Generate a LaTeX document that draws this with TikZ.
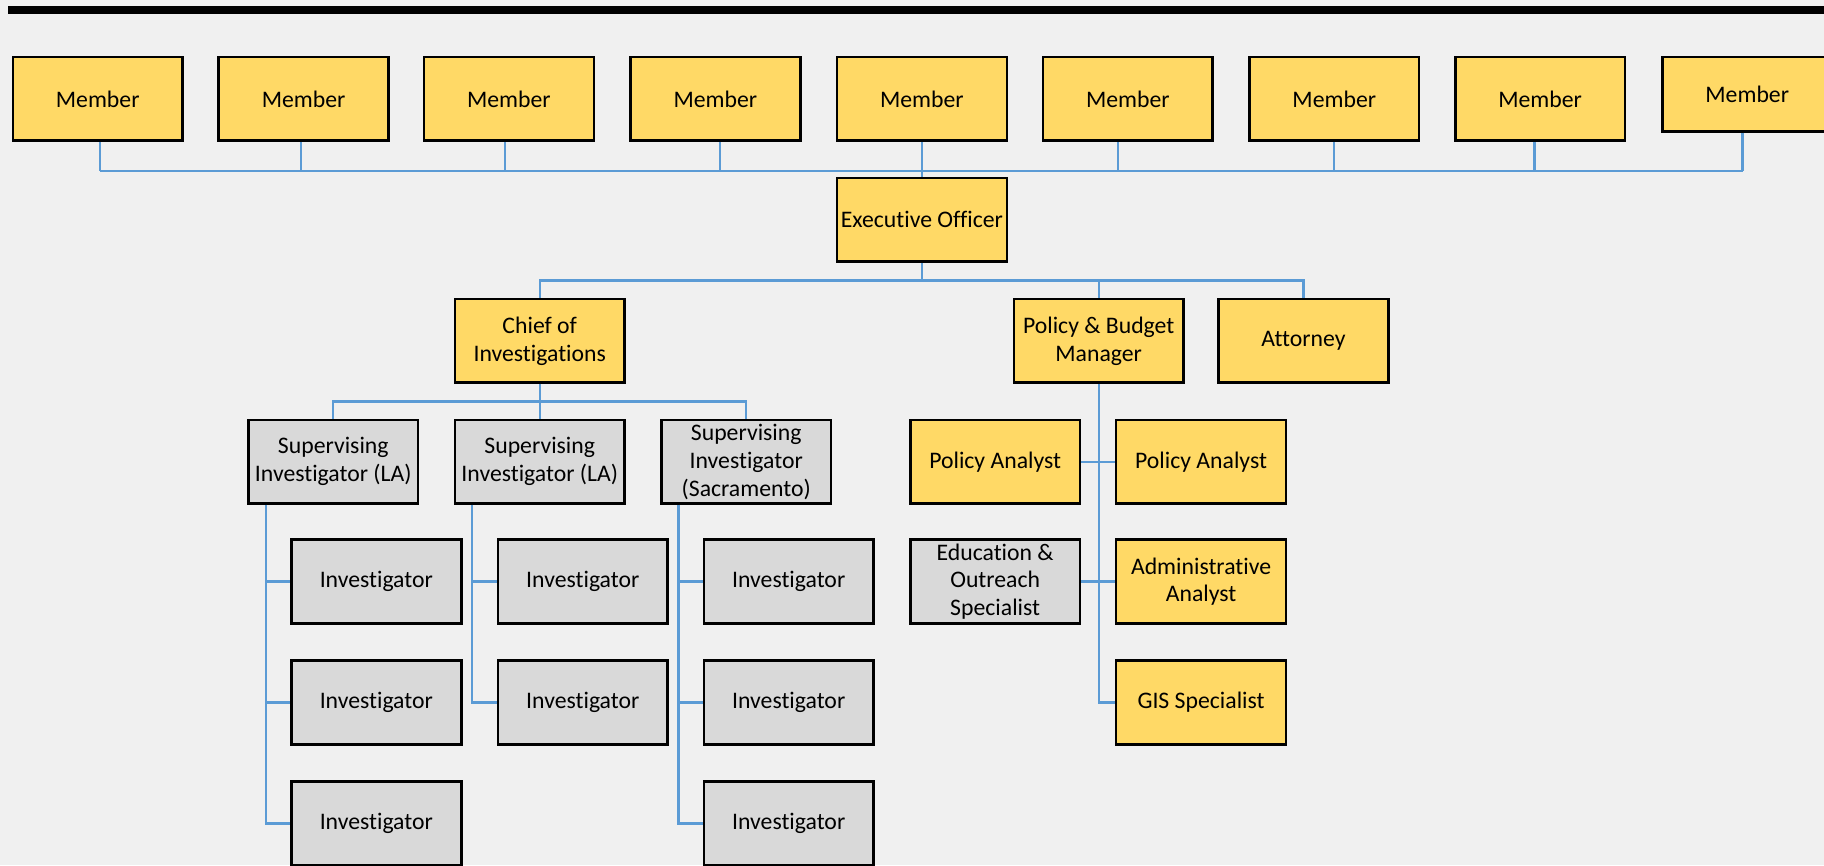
\documentclass[tikz,border=0pt]{standalone}
\usepackage{fontspec}
\setmainfont{Carlito}[RawFeature={-liga;-clig;-calt;-dlig}]
\definecolor{boxgold}{HTML}{FFD966}
\definecolor{boxgray}{HTML}{D9D9D9}
\definecolor{linkblue}{HTML}{5B9BD5}
\definecolor{pagebg}{HTML}{F0F0F0}
\begin{document}
\begin{tikzpicture}[x=0.5pt,y=-0.5pt,
	post/.style={draw=black,line width=1.1pt,minimum width=73pt,minimum height=36pt,inner sep=1pt,align=center,font=\fontsize{10.2}{12}\selectfont},
	goldpost/.style={post,fill=boxgold},
	graypost/.style={post,fill=boxgray},
	link/.style={draw=linkblue,line width=1pt}]
	\fill[pagebg] (0,0) rectangle (1568,744);
	\useasboundingbox (0,0) rectangle (1568,744);
	\draw[line width=3.6pt] (7,8.5) -- (1568,8.5);
	\foreach \i/\x/\d in {1/84/1,2/261/-1,3/437.5/-1.75,4/615/2,5/792.5/0,6/969.5/-4.25,7/1147/0,8/1324/-2.5}
	{
		\node[goldpost] (m\i) at (\x,85) {Member};
		\draw[link] ([xshift=\d pt]m\i.south) -- ++(0,25) coordinate (b\i);
	}
	\node[goldpost,minimum height=32pt] (m9) at (1502,81) {Member};
	\draw[link] ([xshift=-2pt]m9.south) -- ++(0,33) coordinate (b9);
	\draw[link] (b1) -- (b9);
	\node[goldpost] (exec) at (792.5,189) {Executive Officer};
	\draw[link] (m5.south) -- (exec.north);
	\node[goldpost] (chief) at (464,293) {Chief of\\Investigations};
	\node[goldpost] (pbm) at (944.5,293) {Policy \& Budget\\Manager};
	\node[goldpost] (atty) at (1120.5,293) {Attorney};
	\foreach \n in {chief,pbm,atty}
		\draw[link] (exec.south) -- ++(0,15) -| (\n.north);
	\node[graypost] (sup1) at (286.5,397) {Supervising\\Investigator (LA)};
	\node[graypost] (sup2) at (464,397) {Supervising\\Investigator (LA)};
	\node[graypost] (sup3) at (641.5,397) {Supervising\\Investigator\\(Sacramento)};
	\foreach \i in {1,2,3}
		\draw[link] (chief.south) -- ++(0,15) -| (sup\i.north);
	\foreach \c/\x/\n in {1/323.5/3,2/501/2,3/678/3}
		\foreach \r in {1,...,\n}
		{
			\node[graypost] (inv\c\r) at (\x,396+104*\r) {Investigator};
			\draw[link] ([xshift=8pt]sup\c.south west) |- (inv\c\r.west);
		}
	\node[goldpost] (pa1) at (855.5,397) {Policy Analyst};
	\node[goldpost] (pa2) at (1032.5,397) {Policy Analyst};
	\node[graypost] (edu) at (855.5,500) {Education \&\\Outreach\\Specialist};
	\node[goldpost] (admin) at (1032.5,500) {Administrative\\Analyst};
	\node[goldpost] (gis) at (1032.5,604) {GIS Specialist};
	\draw[link] (pbm.south) |- (gis.west);
	\draw[link] (pa1.east) -- (pa2.west);
	\draw[link] (edu.east) -- (admin.west);
\end{tikzpicture}
\end{document}
